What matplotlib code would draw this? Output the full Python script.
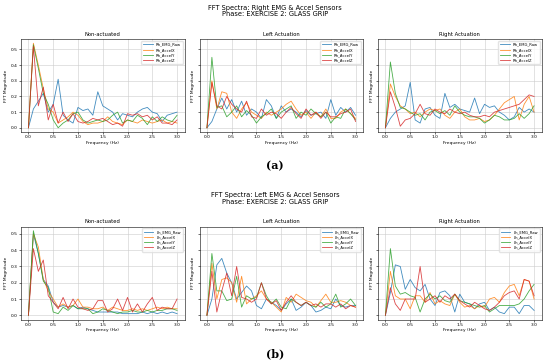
import matplotlib.pyplot as plt
import numpy as np

freq = np.round(np.arange(0, 3.01, 0.1), 1)
conditions = ['Non-actuated', 'Left Actuation', 'Right Actuation']
colors = ['tab:blue', 'tab:orange', 'tab:green', 'tab:red']

right_labels = ['Rh_EMG_Raw', 'Rh_AccelX', 'Rh_AccelY', 'Rh_AccelZ']
left_labels = ['Lh_EMG_Raw', 'Lh_AccelX', 'Lh_AccelY', 'Lh_AccelZ']

# (a) right hand sensors
rh_non = [
    [0, 0.12, 0.17, 0.22, 0.10, 0.15, 0.31, 0.08, 0.05, 0.03, 0.13, 0.11, 0.12, 0.08, 0.23, 0.14, 0.12, 0.10, 0.05, 0.09, 0.08, 0.07, 0.10, 0.12, 0.13, 0.10, 0.09, 0.04, 0.08, 0.09, 0.10],
    [0, 0.54, 0.40, 0.25, 0.12, 0.10, 0.03, 0.05, 0.07, 0.10, 0.08, 0.04, 0.02, 0.03, 0.03, 0.04, 0.07, 0.04, 0.03, 0.02, 0.05, 0.04, 0.03, 0.05, 0.04, 0.03, 0.04, 0.05, 0.03, 0.04, 0.03],
    [0, 0.53, 0.38, 0.22, 0.15, 0.05, 0.00, 0.03, 0.05, 0.09, 0.10, 0.05, 0.03, 0.04, 0.05, 0.04, 0.05, 0.08, 0.10, 0.03, 0.05, 0.04, 0.08, 0.06, 0.02, 0.07, 0.04, 0.07, 0.05, 0.04, 0.08],
    [0, 0.52, 0.14, 0.26, 0.05, 0.15, 0.03, 0.10, 0.04, 0.09, 0.04, 0.03, 0.04, 0.06, 0.05, 0.06, 0.04, 0.02, 0.03, 0.01, 0.09, 0.08, 0.09, 0.07, 0.08, 0.05, 0.07, 0.03, 0.03, 0.02, 0.05],
]
rh_left = [
    [0, 0.04, 0.12, 0.19, 0.12, 0.18, 0.10, 0.17, 0.08, 0.12, 0.10, 0.06, 0.18, 0.14, 0.06, 0.14, 0.10, 0.12, 0.10, 0.07, 0.11, 0.08, 0.09, 0.10, 0.06, 0.18, 0.08, 0.13, 0.10, 0.13, 0.08],
    [0, 0.30, 0.12, 0.23, 0.22, 0.10, 0.06, 0.12, 0.16, 0.10, 0.08, 0.06, 0.10, 0.08, 0.10, 0.12, 0.15, 0.17, 0.12, 0.08, 0.10, 0.06, 0.10, 0.07, 0.12, 0.06, 0.06, 0.10, 0.12, 0.09, 0.06],
    [0, 0.45, 0.13, 0.14, 0.07, 0.10, 0.14, 0.07, 0.11, 0.08, 0.03, 0.07, 0.09, 0.12, 0.06, 0.10, 0.12, 0.14, 0.06, 0.10, 0.08, 0.12, 0.09, 0.07, 0.10, 0.03, 0.07, 0.06, 0.12, 0.09, 0.05],
    [0, 0.29, 0.14, 0.12, 0.20, 0.15, 0.12, 0.10, 0.17, 0.07, 0.06, 0.12, 0.08, 0.10, 0.09, 0.06, 0.10, 0.13, 0.09, 0.06, 0.12, 0.08, 0.10, 0.06, 0.10, 0.07, 0.07, 0.09, 0.10, 0.12, 0.04],
]
rh_right = [
    [0, 0.06, 0.10, 0.12, 0.14, 0.29, 0.05, 0.03, 0.12, 0.13, 0.08, 0.06, 0.22, 0.13, 0.15, 0.12, 0.11, 0.10, 0.19, 0.09, 0.15, 0.13, 0.14, 0.10, 0.08, 0.05, 0.07, 0.13, 0.10, 0.12, 0.10],
    [0, 0.28, 0.20, 0.14, 0.12, 0.09, 0.10, 0.07, 0.10, 0.12, 0.11, 0.12, 0.08, 0.06, 0.10, 0.12, 0.07, 0.05, 0.05, 0.06, 0.04, 0.05, 0.08, 0.12, 0.16, 0.18, 0.20, 0.05, 0.15, 0.20, 0.10],
    [0, 0.42, 0.22, 0.13, 0.12, 0.10, 0.08, 0.09, 0.05, 0.10, 0.11, 0.09, 0.11, 0.08, 0.14, 0.10, 0.08, 0.07, 0.07, 0.06, 0.03, 0.05, 0.08, 0.07, 0.05, 0.05, 0.06, 0.09, 0.06, 0.09, 0.14],
    [0, 0.23, 0.13, 0.01, 0.05, 0.06, 0.09, 0.15, 0.09, 0.08, 0.12, 0.10, 0.09, 0.12, 0.10, 0.09, 0.10, 0.08, 0.07, 0.07, 0.08, 0.07, 0.10, 0.11, 0.12, 0.13, 0.14, 0.15, 0.18, 0.21, 0.20],
]

# (b) left hand sensors
lh_non = [
    [0, 0.50, 0.38, 0.22, 0.18, 0.08, 0.05, 0.06, 0.05, 0.06, 0.04, 0.05, 0.04, 0.03, 0.02, 0.02, 0.02, 0.02, 0.02, 0.01, 0.01, 0.01, 0.01, 0.02, 0.01, 0.02, 0.01, 0.02, 0.01, 0.02, 0.01],
    [0, 0.50, 0.42, 0.22, 0.15, 0.10, 0.05, 0.07, 0.05, 0.06, 0.10, 0.05, 0.05, 0.04, 0.04, 0.05, 0.03, 0.05, 0.04, 0.03, 0.03, 0.04, 0.03, 0.04, 0.03, 0.04, 0.05, 0.04, 0.05, 0.04, 0.04],
    [0, 0.52, 0.38, 0.21, 0.17, 0.02, 0.01, 0.05, 0.03, 0.06, 0.04, 0.04, 0.04, 0.01, 0.02, 0.04, 0.03, 0.02, 0.01, 0.02, 0.02, 0.03, 0.02, 0.02, 0.03, 0.02, 0.03, 0.03, 0.04, 0.04, 0.03],
    [0, 0.41, 0.27, 0.34, 0.12, 0.08, 0.04, 0.11, 0.04, 0.10, 0.05, 0.04, 0.03, 0.04, 0.09, 0.09, 0.02, 0.04, 0.10, 0.03, 0.11, 0.02, 0.07, 0.02, 0.07, 0.11, 0.03, 0.05, 0.04, 0.04, 0.10],
]
lh_left = [
    [0, 0.10, 0.31, 0.35, 0.26, 0.20, 0.10, 0.14, 0.18, 0.15, 0.06, 0.04, 0.10, 0.08, 0.06, 0.03, 0.07, 0.10, 0.03, 0.05, 0.08, 0.06, 0.02, 0.03, 0.05, 0.04, 0.10, 0.06, 0.05, 0.06, 0.06],
    [0, 0.32, 0.10, 0.22, 0.23, 0.20, 0.08, 0.24, 0.07, 0.10, 0.12, 0.15, 0.10, 0.08, 0.05, 0.02, 0.11, 0.08, 0.13, 0.11, 0.09, 0.08, 0.05, 0.09, 0.13, 0.08, 0.08, 0.09, 0.08, 0.06, 0.05],
    [0, 0.38, 0.15, 0.15, 0.09, 0.10, 0.24, 0.05, 0.12, 0.10, 0.11, 0.20, 0.12, 0.07, 0.10, 0.05, 0.04, 0.10, 0.08, 0.06, 0.08, 0.06, 0.05, 0.08, 0.05, 0.07, 0.13, 0.05, 0.07, 0.10, 0.06],
    [0, 0.27, 0.02, 0.15, 0.26, 0.12, 0.30, 0.11, 0.10, 0.08, 0.10, 0.20, 0.10, 0.07, 0.09, 0.03, 0.08, 0.12, 0.08, 0.06, 0.08, 0.06, 0.07, 0.05, 0.07, 0.07, 0.05, 0.07, 0.04, 0.06, 0.05],
]
lh_right = [
    [0, 0.14, 0.31, 0.30, 0.16, 0.22, 0.17, 0.15, 0.19, 0.10, 0.06, 0.14, 0.15, 0.12, 0.02, 0.13, 0.08, 0.07, 0.04, 0.07, 0.08, 0.03, 0.05, 0.02, 0.01, 0.05, 0.05, 0.01, 0.06, 0.06, 0.03],
    [0, 0.27, 0.12, 0.10, 0.10, 0.04, 0.12, 0.12, 0.08, 0.14, 0.07, 0.09, 0.07, 0.06, 0.13, 0.08, 0.05, 0.06, 0.04, 0.06, 0.05, 0.10, 0.11, 0.08, 0.14, 0.18, 0.19, 0.12, 0.22, 0.21, 0.10],
    [0, 0.41, 0.18, 0.13, 0.14, 0.12, 0.11, 0.02, 0.10, 0.13, 0.10, 0.12, 0.09, 0.08, 0.13, 0.09, 0.08, 0.07, 0.06, 0.05, 0.06, 0.02, 0.04, 0.06, 0.06, 0.06, 0.06, 0.07, 0.10, 0.15, 0.19],
    [0, 0.17, 0.07, 0.03, 0.10, 0.10, 0.10, 0.30, 0.08, 0.10, 0.12, 0.08, 0.12, 0.10, 0.13, 0.09, 0.07, 0.05, 0.08, 0.06, 0.04, 0.03, 0.05, 0.08, 0.12, 0.14, 0.15, 0.10, 0.22, 0.21, 0.12],
]

W, H = 550, 363
fig = plt.figure(figsize=(W / 100, H / 100), dpi=100)


def px_axes(left, top, width, height):
    return fig.add_axes([left / W, 1 - (top + height) / H, width / W, height / H])


def draw_panel(top, side, labels, series_sets, tag, tag_y):
    # block title, three subplots sharing y, and the (a)/(b) tag below
    fig.text(0.5, 1 - (top - 28) / H,
             'FFT Spectra: %s EMG & Accel Sensors\nPhase: EXERCISE 2: GLASS GRIP' % side,
             ha='center', va='center', fontsize=4.8, linespacing=1.1)
    axes = []
    for i, (cond, series) in enumerate(zip(conditions, series_sets)):
        ax = px_axes(21 + i * 178.5, top, 163.5, 93)
        if axes:
            ax.sharey(axes[0])
        for vals, lab, c in zip(series, labels, colors):
            ax.plot(freq, vals, color=c, lw=0.6, alpha=0.85, label=lab)
        ax.set_title(cond, fontsize=3.8, pad=2.5)
        ax.set_xlabel('Frequency (Hz)', fontsize=3.2, labelpad=1)
        ax.set_ylabel('FFT Magnitude', fontsize=3.2, labelpad=1.5)
        ax.set_xticks(np.arange(0, 3.01, 0.5))
        ax.grid(True, color='#cccccc', lw=0.4)
        ax.tick_params(labelsize=3.2, length=1.5, width=0.4, pad=1)
        if i > 0:
            ax.tick_params(labelleft=False)
        for s in ax.spines.values():
            s.set_linewidth(0.4)
        ax.legend(loc='upper right', fontsize=2.7, frameon=True, framealpha=0.8,
                  handlelength=2.5, borderpad=0.5, labelspacing=0.3,
                  edgecolor='#dddddd')
        axes.append(ax)
    fig.text(0.5, 1 - tag_y / H, tag, ha='center', va='center',
             fontsize=8, fontweight='bold', family='DejaVu Serif')


draw_panel(39, 'Right', right_labels, [rh_non, rh_left, rh_right], '(a)', 166)
draw_panel(226.5, 'Left', left_labels, [lh_non, lh_left, lh_right], '(b)', 354)

fig.savefig('out.png', dpi=100)
